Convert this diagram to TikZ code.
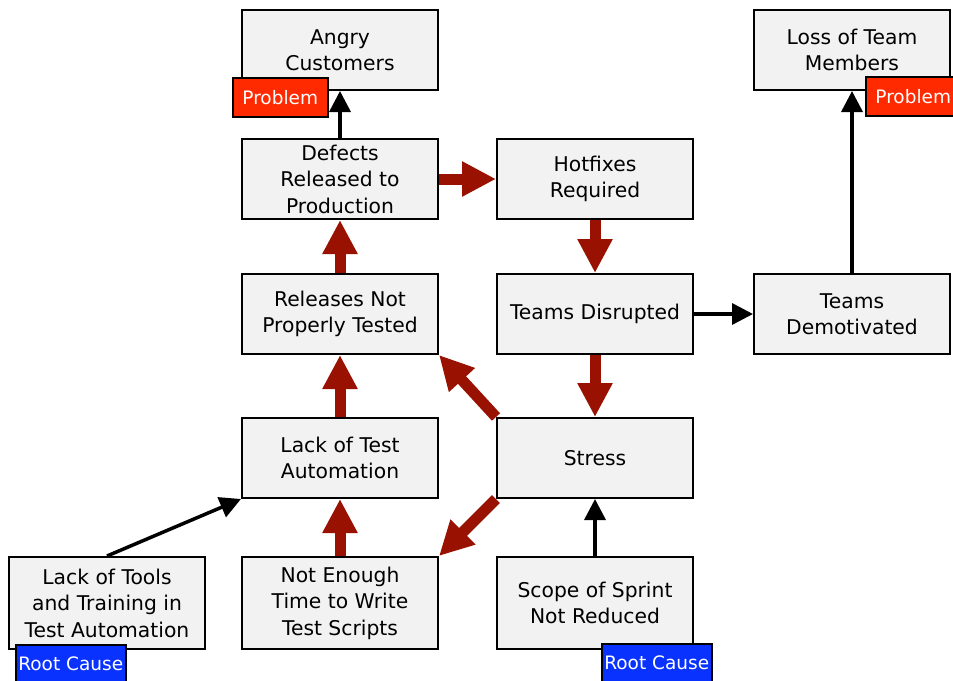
\documentclass[tikz,border=0pt]{standalone}
\usepackage{fontspec}
\setmainfont{DejaVu Sans}
\usetikzlibrary{arrows.meta}
\definecolor{boxfill}{RGB}{242,242,242}
\definecolor{causered}{RGB}{153,17,0}
\definecolor{probred}{RGB}{255,42,0}
\definecolor{rootblue}{RGB}{10,50,255}
\tikzset{
  box/.style={draw=black, line width=2pt, fill=boxfill, minimum width=196pt,
    minimum height=80pt, align=center, inner sep=2pt,
    font=\fontsize{20.3pt}{26.5pt}\selectfont},
  tallbox/.style={box, minimum height=92pt},
  tag/.style={draw=black, line width=1.5pt, text=white, minimum height=39pt,
    inner sep=0pt, anchor=north west, font=\fontsize{18.5pt}{22pt}\selectfont},
  probtag/.style={tag, fill=probred, minimum width=95pt},
  roottag/.style={tag, fill=rootblue, minimum width=110pt},
  bigarrow/.style={draw=causered, line width=11pt,
    -{Triangle[length=34pt,width=33pt]}},
  thinarrow/.style={draw=black, line width=3.5pt,
    -{Triangle[length=21pt,width=21pt]}},
}
\begin{document}
\begin{tikzpicture}[x=1pt, y=-1pt]
\useasboundingbox (0,0) rectangle (953,680);

% boxes
\node[box] (ang)  at (340,50)  {Angry\\Customers};
\node[box] (loss) at (852,50)  {Loss of Team\\Members};
\node[box] (def)  at (340,179) {Defects\\Released to\\Production};
\node[box] (hot)  at (595,179) {Hotfixes\\Required};
\node[box] (rel)  at (340,314) {Releases Not\\Properly Tested};
\node[box] (dis)  at (595,314) {Teams Disrupted};
\node[box] (dem)  at (852,314) {Teams\\Demotivated};
\node[box] (auto) at (340,458) {Lack of Test\\Automation};
\node[box] (str)  at (595,458) {Stress};
\node[tallbox] (tools) at (107,603) {Lack of Tools\\and Training in\\Test Automation};
\node[tallbox] (time)  at (340,603) {Not Enough\\Time to Write\\Test Scripts};
\node[tallbox] (scope) at (595,603) {Scope of Sprint\\Not Reduced};

% causal links
\draw[bigarrow] (rel.north) -- (def.south);
\draw[bigarrow] (def.east) -- (hot.west);
\draw[bigarrow] (hot.south) -- (dis.north);
\draw[bigarrow] (dis.south) -- (str.north);
\draw[bigarrow] (str.north west) -- (rel.south east);
\draw[bigarrow] (str.south west) -- (time.north east);
\draw[bigarrow] (auto.north) -- (rel.south);
\draw[bigarrow] (time.north) -- (auto.south);

\draw[thinarrow] (def.north) -- (ang.south);
\draw[thinarrow] (dis.east) -- (dem.west);
\draw[thinarrow] (dem.north) -- (loss.south);
\draw[thinarrow] (scope.north) -- (str.south);
\draw[thinarrow] (tools.north) -- (auto.south west);

% labels
\node[probtag] (p1) at (232,77) {Problem};
\node[probtag] (p2) at (865,76) {Problem};
\node[roottag] (r1) at (15,644) {Root Cause};
\node[roottag] (r2) at (601,643) {Root Cause};
\end{tikzpicture}
\end{document}
